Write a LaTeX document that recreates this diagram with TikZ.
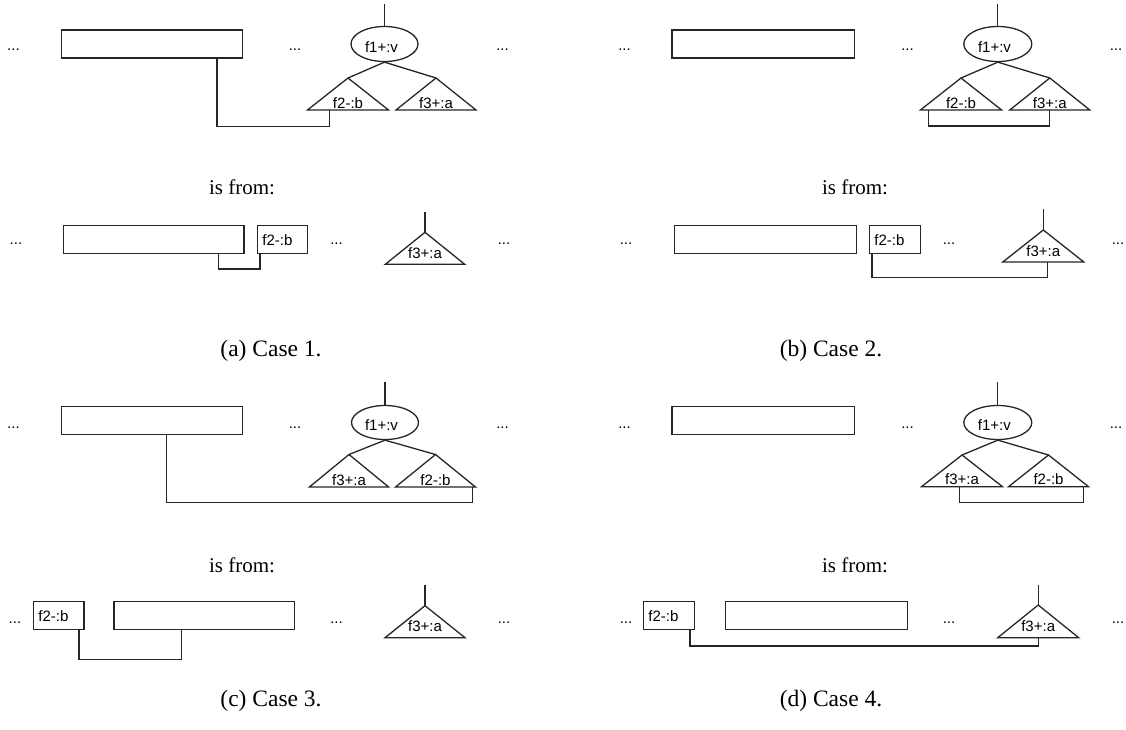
\documentclass[tikz,border=0pt]{standalone}
\usepackage{fontspec}
\setmainfont{Liberation Serif}
\newfontfamily\arialf{Liberation Sans}
\usetikzlibrary{shapes.geometric,calc}
\newcommand\mytri[7]{% name, apex x, apex y, half width, base y, label, label lift
  \coordinate (#1-top) at (#2,#3);
  \coordinate (#1-l) at (#2-#4,#5);
  \coordinate (#1-r) at (#2+#4,#5);
  \draw[ln] (#1-top) -- (#1-l) -- (#1-r) -- cycle;
  \node[sans, anchor=base] (#1) at (#2,#5-#7) {#6};
}
\newcommand\mydots[3]{\node[sans, anchor=base] (#1) at (#2,#3+1.5) {...};}
\begin{document}
\begin{tikzpicture}[x=1pt,y=-1pt,
  ln/.style={draw=black!85, line width=1.3pt},
  sans/.style={font=\arialf\fontsize{15}{18}\selectfont, inner sep=0pt},
  rect/.style={ln, minimum height=28pt, inner sep=0pt, anchor=north west},
  fbox/.style={ln, sans, minimum height=28pt, inner xsep=5pt, inner ysep=0pt, align=left, anchor=north west},
  ell/.style={ln, ellipse, inner sep=0pt},
  serif/.style={font=\fontsize{21}{24}\selectfont, inner sep=0pt},
  capt/.style={font=\fontsize{23.5}{26}\selectfont, inner sep=0pt}]
\useasboundingbox (0,0) rectangle (1126,729);

% ================= (a) top =================
\mydots{a-d1}{13.5}{49}
\mydots{a-d2}{295}{49}
\mydots{a-d3}{502.5}{49}
\node[rect, minimum width=181pt] (a-r) at (61,29.3) {};
\node[ell, minimum width=67pt, minimum height=35pt] (a-e) at (384.5,44) {};
\node[sans, anchor=base] (a-el) at (381.5,52.5) {f1+:v};
\draw[ln] (a-e.north) -- ++(0,-22);
\mytri{a-t2}{348}{78}{40.5}{110}{f2-:b}{2}
\mytri{a-t3}{436}{78}{40}{110}{f3+:a}{2}
\draw[ln] (a-t2-top) -- (a-e.south) -- (a-t3-top);
\draw[ln] ([xshift=156pt]a-r.south west) -- ++(0,68) -| ($(a-t2-l)+(22,0)$);

% ================= (a) bottom =================
\node[serif] (a-from) at (242,187) {is from:};
\mydots{a2-d1}{16}{243}
\mydots{a2-d2}{336.5}{243}
\mydots{a2-d3}{504}{243}
\node[rect, minimum width=180.6pt] (a2-r) at (62.7,225) {};
\node[fbox, text width=40pt] (a2-b) at (256.7,225) {f2-:b};
\mytri{a2-t}{425}{232.3}{39.7}{264.3}{f3+:a}{6}
\draw[ln] (a2-t-top) -- ++(0,-20.6);
\draw[ln] ([xshift=155.6pt]a2-r.south west) -- ++(0,14.6) -| ([xshift=3.3pt]a2-b.south west);
\node[capt] (a-cap) at (271,351) {(a) Case 1.};

% ================= (b) top =================
\mydots{b-d1}{624.5}{49}
\mydots{b-d2}{907.5}{49}
\mydots{b-d3}{1116}{49}
\node[rect, minimum width=182.5pt] (b-r) at (671.4,29.3) {};
\node[ell, minimum width=68pt, minimum height=35pt] (b-e) at (997.8,44) {};
\node[sans, anchor=base] (b-el) at (994.5,52.5) {f1+:v};
\draw[ln] (b-e.north) -- ++(0,-22);
\mytri{b-t2}{961}{78}{40.6}{110}{f2-:b}{2}
\mytri{b-t3}{1049.8}{78}{40}{110}{f3+:a}{2}
\draw[ln] (b-t2-top) -- (b-e.south) -- (b-t3-top);
\draw[ln] ($(b-t2-l)+(8,0)$) -- ++(0,16) -| (b-t3-top |- b-t3-l);

% ================= (b) bottom =================
\node[serif] (b-from) at (855,187) {is from:};
\mydots{b2-d1}{626}{243}
\mydots{b2-d2}{949}{243}
\mydots{b2-d3}{1118}{243}
\node[rect, minimum width=182pt] (b2-r) at (673.6,225) {};
\node[fbox, text width=40.8pt] (b2-b) at (868.8,225) {f2-:b};
\mytri{b2-t}{1043.3}{230}{40.5}{262}{f3+:a}{6}
\draw[ln] (b2-t-top) -- ++(0,-21);
\draw[ln] ([xshift=3.2pt]b2-b.south west) -- ++(0,23.3) -| ($(b2-t-top |- b2-t-l)+(4,0)$);
\node[capt] (b-cap) at (831,351) {(b) Case 2.};

% ================= (c) top =================
\mydots{c-d1}{13.5}{427}
\mydots{c-d2}{295}{427}
\mydots{c-d3}{502.5}{427}
\node[rect, minimum width=181pt] (c-r) at (61,406) {};
\node[ell, minimum width=67pt, minimum height=34pt] (c-e) at (385,422.5) {};
\node[sans, anchor=base] (c-el) at (381.5,430) {f1+:v};
\draw[ln] (c-e.north) -- ++(0,-22.5);
\mytri{c-t3}{349}{454.5}{39.6}{487}{f3+:a}{2}
\mytri{c-t2}{435.5}{454.5}{40}{487}{f2-:b}{2}
\draw[ln] (c-t3-top) -- (c-e.south) -- (c-t2-top);
\draw[ln] ([xshift=105.7pt]c-r.south west) -- ++(0,67) -| ($(c-t2-r)+(-3.3,0)$);

% ================= (c) bottom =================
\node[serif] (c-from) at (242,565) {is from:};
\mydots{c2-d1}{15}{621.5}
\mydots{c2-d2}{336.5}{621.5}
\mydots{c2-d3}{504}{621.5}
\node[fbox, text width=40.6pt] (c2-b) at (32.7,601) {f2-:b};
\node[rect, minimum width=180.7pt] (c2-r) at (113.3,601) {};
\mytri{c2-t}{425}{605.7}{40}{637.7}{f3+:a}{6}
\draw[ln] (c2-t-top) -- ++(0,-20.7);
\draw[ln] ([xshift=-5.6pt]c2-b.south east) -- ++(0,29) -| ([xshift=68.4pt]c2-r.south west);
\node[capt] (c-cap) at (271,701) {(c) Case 3.};

% ================= (d) top =================
\mydots{d-d1}{624.5}{427}
\mydots{d-d2}{907.5}{427}
\mydots{d-d3}{1116}{427}
\node[rect, minimum width=182.5pt] (d-r) at (671.4,406) {};
\node[ell, minimum width=68pt, minimum height=34pt] (d-e) at (997.8,422.5) {};
\node[sans, anchor=base] (d-el) at (994.3,430) {f1+:v};
\draw[ln] (d-e.north) -- ++(0,-22.5);
\mytri{d-t3}{962}{455}{40.5}{486.7}{f3+:a}{2}
\mytri{d-t2}{1048.5}{455}{40}{486.7}{f2-:b}{2}
\draw[ln] (d-t3-top) -- (d-e.south) -- (d-t2-top);
\draw[ln] ($(d-t2-r)+(-5,0)$) -- ++(0,15.6) -| ($(d-t3-top |- d-t3-l)+(-2.5,0)$);

% ================= (d) bottom =================
\node[serif] (d-from) at (855,565) {is from:};
\mydots{d2-d1}{626}{621.5}
\mydots{d2-d2}{949}{621.5}
\mydots{d2-d3}{1118}{621.5}
\node[fbox, text width=40.8pt] (d2-b) at (642.7,601) {f2-:b};
\node[rect, minimum width=181.4pt] (d2-r) at (725.1,601) {};
\mytri{d2-t}{1038.2}{605}{40.5}{637.7}{f3+:a}{6}
\draw[ln] (d2-t-top) -- ++(0,-20);
\draw[ln] ([xshift=-4.7pt]d2-b.south east) -- ++(0,15.6) -| (d2-t-top |- d2-t-l);
\node[capt] (d-cap) at (831,701) {(d) Case 4.};
\end{tikzpicture}
\end{document}
